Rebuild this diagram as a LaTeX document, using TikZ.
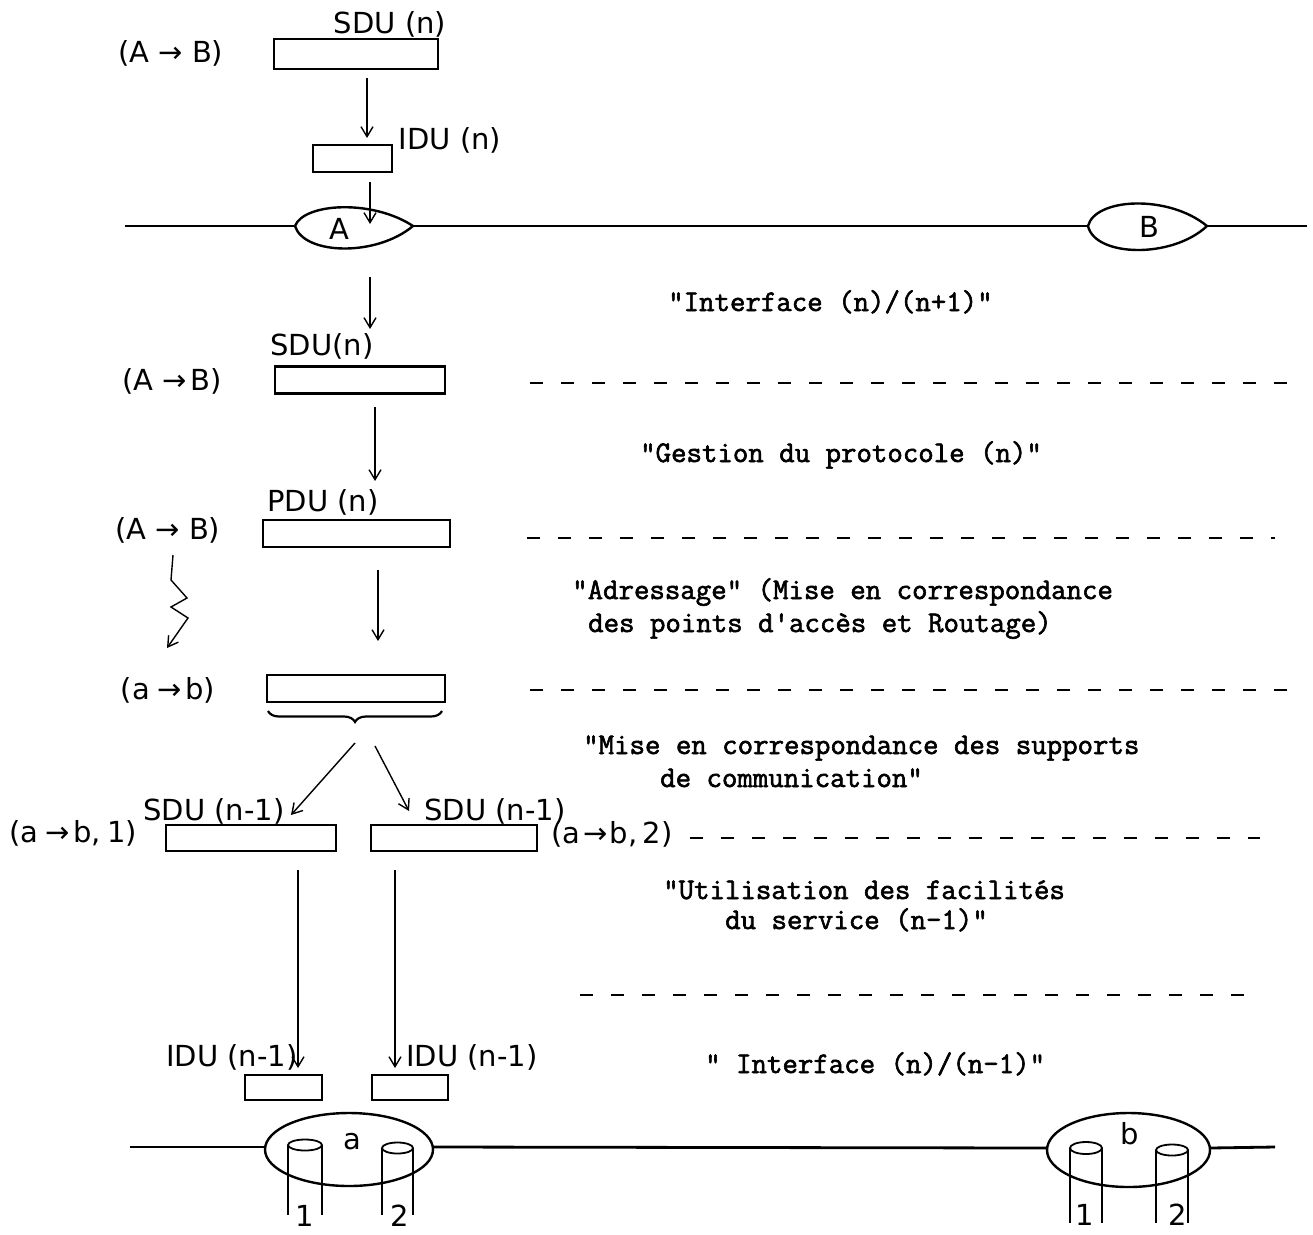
\documentclass[tikz,border=0pt]{standalone}
\usepackage{fontspec}
\newfontfamily\hand{DejaVu Sans}
\newfontfamily\tw{Latin Modern Mono}[FakeBold=2]
\usetikzlibrary{arrows.meta,decorations.pathreplacing}
\begin{document}
\begin{tikzpicture}[x=1pt,y=-1pt]
\tikzset{
 box/.style={draw, line width=2.2pt, inner sep=0pt},
 hand/.style={font=\hand\fontsize{29}{33}\selectfont, inner sep=0pt},
 mono/.style={font=\tw\fontsize{30}{34}\selectfont, anchor=west, inner sep=0pt, text height=20pt, text depth=6pt},
 arr/.style={line width=1.4pt, -{Straight Barb[length=10pt,width=12pt]}},
 sep/.style={line width=2.4pt, dash pattern=on 13pt off 18pt},
 wire/.style={line width=2.8pt},
 lens/.style={line width=2.4pt},
 cyl/.style={line width=1.8pt},
}
\fill[white] (0,0) rectangle (1313,1234);
\useasboundingbox (0,0) rectangle (1313,1234);

% ---------- top : service (n) ----------
\node[hand] (l1) at (171,53) {(A\hspace{9pt}→\hspace{9pt}B)};
\node[box, minimum width=164pt, minimum height=30pt] (sdu1) at (356,54) {};
\node[hand] (sdu1t) at (390,24) {SDU (n)};
\coordinate (a1s) at (367,78); \coordinate (a1e) at (367,138);
\draw[arr] (a1s) -- (a1e);
\node[hand] (idu1t) at (450,140) {IDU (n)};
\node[box, minimum width=79pt, minimum height=27pt] (idu1) at (352.5,158.5) {};
\coordinate (a2s) at (370,182); \coordinate (a2e) at (370,224);
\draw[arr] (a2s) -- (a2e);

% upper wire with A and B
\coordinate (w1l) at (125,226);
\coordinate (Al) at (295,226); \coordinate (Ar) at (413,226);
\coordinate (Bl) at (1088,226); \coordinate (Br) at (1207,226);
\coordinate (w1r) at (1307,226);
\draw[wire] (w1l) -- (Al);
\draw[wire] (Ar) -- (Bl);
\draw[wire] (Br) -- (w1r);
\draw[lens] (Al) .. controls (304,203) and (372,199) .. (Ar) .. controls (376,257) and (304,255) .. (Al);
\draw[lens] (Bl) .. controls (1095,198) and (1168,194) .. (Br) .. controls (1172,259) and (1095,257) .. (Bl);
\node[hand] (At) at (339,229) {A};
\node[hand] (Bt) at (1149,227) {B};

\coordinate (a3s) at (370,277); \coordinate (a3e) at (370,329);
\draw[arr] (a3s) -- (a3e);
\node[mono] (t1) at (668,304) {"Interface (n)/(n+1)"};

% ---------- SDU (n) ----------
\node[hand] (l2) at (172,381) {(A\hspace{9pt}→\hspace{4pt}B)};
\node[hand] (sdu2t) at (322,346) {SDU(n)};
\node[box, minimum width=170pt, minimum height=27pt] (sdu2) at (360,380) {};
\coordinate (d1l) at (530,383); \coordinate (d1r) at (1290,383);
\draw[sep] (d1l) -- (d1r);
\coordinate (a4s) at (375,407); \coordinate (a4e) at (375,481);
\draw[arr] (a4s) -- (a4e);
\node[mono] (t2) at (640,455) {"Gestion du protocole (n)"};

% ---------- PDU (n) ----------
\node[hand] (l3) at (168,530) {(A\hspace{9pt}→\hspace{9pt}B)};
\node[hand] (pdut) at (323,502) {PDU (n)};
\node[box, minimum width=187pt, minimum height=27pt] (pdu) at (356.5,533.5) {};
\coordinate (d2l) at (527,538); \coordinate (d2r) at (1275,538);
\draw[sep] (d2l) -- (d2r);
\coordinate (zs) at (173,555); \coordinate (ze) at (167,648);
\draw[arr] (zs) -- (171,580) -- (187,598) -- (171,607) -- (188,618) -- (ze);
\coordinate (a5s) at (378,570); \coordinate (a5e) at (378,641);
\draw[arr] (a5s) -- (a5e);
\node[mono] (t3a) at (572,592) {"Adressage" (Mise en correspondance};
\node[mono] (t3b) at (588,625) {des points d'accès et Routage)};

% ---------- (a -> b) ----------
\node[hand] (l4) at (168,690) {(a\hspace{7pt}→\hspace{4pt}b)};
\node[box, minimum width=178pt, minimum height=27pt] (ab) at (356,688.5) {};
\coordinate (d3l) at (530,690); \coordinate (d3r) at (1290,690);
\draw[sep] (d3l) -- (d3r);
\coordinate (brl) at (268,711); \coordinate (brr) at (442,711);
\draw[line width=2.2pt, decorate, decoration={brace, mirror, amplitude=11pt}] (brl) -- (brr);
\coordinate (a6s) at (355,743); \coordinate (a6e) at (291,815);
\draw[arr] (a6s) -- (a6e);
\coordinate (a7s) at (375,746); \coordinate (a7e) at (409,811);
\draw[arr] (a7s) -- (a7e);
\node[mono] (t4a) at (583,747) {"Mise en correspondance des supports};
\node[mono] (t4b) at (660,780) {de communication"};

% ---------- SDU (n-1) ----------
\node[hand] (l5) at (73,833) {(a\hspace{7pt}→\hspace{4pt}b,\hspace{6pt}1)};
\node[hand] (sdu3t) at (214,811) {SDU (n-1)};
\node[box, minimum width=170pt, minimum height=26pt] (sdu3) at (251,838) {};
\node[box, minimum width=166pt, minimum height=26pt] (sdu4) at (454,838) {};
\node[hand] (sdu4t) at (495,811) {SDU (n-1)};
\node[hand] (l6) at (612,834) {(a\hspace{3pt}→\hspace{2pt}b,\hspace{5pt}2)};
\coordinate (d4l) at (690,838); \coordinate (d4r) at (1260,838);
\draw[sep] (d4l) -- (d4r);
\node[mono] (t5a) at (663,892) {"Utilisation des facilités};
\node[mono] (t5b) at (725,922) {du service (n-1)"};
\coordinate (d5l) at (580,995); \coordinate (d5r) at (1260,995);
\draw[sep] (d5l) -- (d5r);

% ---------- IDU (n-1) ----------
\coordinate (a8s) at (298,870); \coordinate (a8e) at (298,1068);
\draw[arr] (a8s) -- (a8e);
\coordinate (a9s) at (395,870); \coordinate (a9e) at (395,1068);
\draw[arr] (a9s) -- (a9e);
\node[hand] (idu2t) at (232,1057) {IDU (n-1)};
\node[hand] (idu3t) at (472,1057) {IDU (n-1)};
\node[mono] (t6) at (705,1066) {" Interface (n)/(n-1)"};
\node[box, minimum width=77pt, minimum height=25pt] (idu2) at (283.5,1087.5) {};
\node[box, minimum width=76pt, minimum height=25pt] (idu3) at (410,1087.5) {};

% lower wire with a and b
\coordinate (w2l) at (130,1147);
\coordinate (al) at (265,1147); \coordinate (ar) at (433,1147);
\coordinate (bl) at (1047,1148); \coordinate (br) at (1210,1148);
\coordinate (w2r) at (1275,1147);
\draw[wire] (w2l) -- (al);
\draw[wire] (ar) -- (bl);
\draw[wire] (br) -- (w2r);
\draw[lens] (349,1149.5) ellipse [x radius=84, y radius=36.5];
\draw[lens] (1128.5,1150) ellipse [x radius=81.5, y radius=37];
\node[hand] (at) at (352,1142) {a};
\node[hand] (bt) at (1130,1134) {b};
% cylinders in a
\draw[cyl] (305,1145) ellipse [x radius=17, y radius=5.5];
\draw[cyl] (288,1145) -- (288,1215);
\draw[cyl] (322,1145) -- (322,1215);
\draw[cyl] (397.5,1148) ellipse [x radius=15.5, y radius=5.5];
\draw[cyl] (382,1148) -- (382,1215);
\draw[cyl] (413,1148) -- (413,1215);
\node[hand] (a1t) at (305,1216) {1};
\node[hand] (a2t) at (400,1216) {2};
% cylinders in b
\draw[cyl] (1086,1148) ellipse [x radius=16, y radius=6];
\draw[cyl] (1070,1148) -- (1070,1223);
\draw[cyl] (1102,1148) -- (1102,1223);
\draw[cyl] (1172,1150) ellipse [x radius=16, y radius=5.5];
\draw[cyl] (1156,1150) -- (1156,1223);
\draw[cyl] (1188,1150) -- (1188,1223);
\node[hand] (b1t) at (1085,1215) {1};
\node[hand] (b2t) at (1178,1215) {2};
\end{tikzpicture}
\end{document}
